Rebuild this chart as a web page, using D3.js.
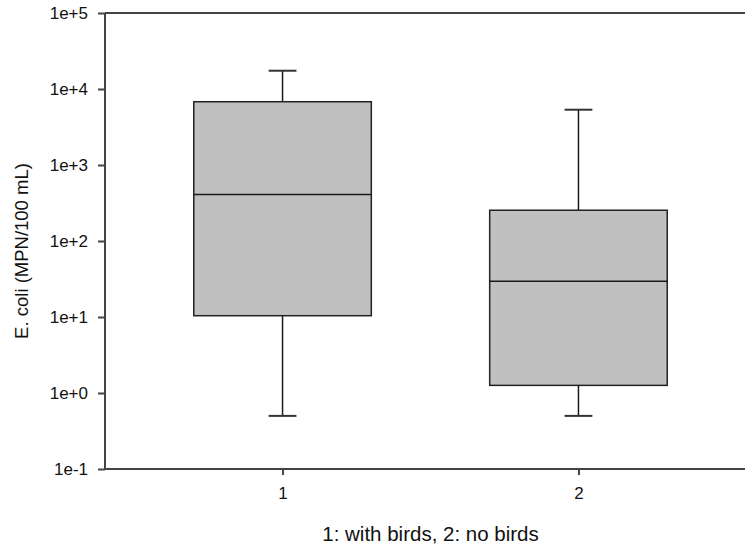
<!DOCTYPE html>
<html>
<head>
<meta charset="utf-8">
<script src="https://cdn.jsdelivr.net/npm/d3@7/dist/d3.min.js"></script>
<style>
  html, body { margin: 0; padding: 0; background: #fff; }
  svg { display: block; font-family: "Liberation Sans", Arial, sans-serif; }
</style>
</head>
<body>
<svg id="chart" width="745" height="548"></svg>
<script>
// Groups and five-number summaries (E. coli, MPN/100 mL)
const groups = [1, 2];
const whiskerLow = [0.5, 0.5];
const q1 = [10.4, 1.26];
const median = [410, 29.5];
const q3 = [6800, 254];
const whiskerHigh = [17400, 5340];
const yTicks = [1e-1, 1e0, 1e1, 1e2, 1e3, 1e4, 1e5];
const yTickLabels = ["1e-1", "1e+0", "1e+1", "1e+2", "1e+3", "1e+4", "1e+5"];

const svg = d3.select("#chart");
const margin = { left: 105, top: 13, right: 756, bottom: 469 };

const x = d3.scaleLinear().domain([0.4, 2.6]).range([margin.left, margin.right]);
const y = d3.scaleLog().domain([1e-1, 1e5]).range([margin.bottom, margin.top]);

const boxHalf = 0.3;   // box half-width in x units
const capHalf = 0.047; // whisker cap half-width

const data = groups.map((g, i) => ({
  g, lo: whiskerLow[i], q1: q1[i], med: median[i], q3: q3[i], hi: whiskerHigh[i]
}));

const axisColor = "#444";
const lineColor = "#1a1a1a";
const font = "Liberation Sans, Arial, sans-serif";

// Whiskers
const w = svg.append("g");
data.forEach(d => {
  w.append("line").attr("x1", x(d.g)).attr("x2", x(d.g))
    .attr("y1", y(d.hi)).attr("y2", y(d.q3))
    .attr("stroke", lineColor).attr("stroke-width", 1.5);
  w.append("line").attr("x1", x(d.g)).attr("x2", x(d.g))
    .attr("y1", y(d.q1)).attr("y2", y(d.lo))
    .attr("stroke", lineColor).attr("stroke-width", 1.5);
  [d.hi, d.lo].forEach(v => {
    w.append("line").attr("x1", x(d.g - capHalf)).attr("x2", x(d.g + capHalf))
      .attr("y1", y(v)).attr("y2", y(v))
      .attr("stroke", "#333").attr("stroke-width", 2);
  });
});

// Boxes
svg.append("g").selectAll("rect").data(data).join("rect")
  .attr("x", d => x(d.g - boxHalf))
  .attr("width", d => x(d.g + boxHalf) - x(d.g - boxHalf))
  .attr("y", d => y(d.q3))
  .attr("height", d => y(d.q1) - y(d.q3))
  .attr("fill", "#c0c0c0")
  .attr("stroke", "#222").attr("stroke-width", 1.5);

// Medians
svg.append("g").selectAll("line").data(data).join("line")
  .attr("x1", d => x(d.g - boxHalf)).attr("x2", d => x(d.g + boxHalf))
  .attr("y1", d => y(d.med)).attr("y2", d => y(d.med))
  .attr("stroke", lineColor).attr("stroke-width", 1.5);

// Y axis
const yAxis = d3.axisLeft(y).tickValues(yTicks)
  .tickFormat((d, i) => yTickLabels[i]).tickSize(7).tickPadding(10);
const yg = svg.append("g").attr("transform", `translate(${margin.left},0)`).call(yAxis);
yg.attr("font-size", 17).attr("font-family", font);
yg.select(".domain").attr("stroke", axisColor).attr("stroke-width", 2).attr("d", `M0,${margin.top}V${margin.bottom}`);
yg.selectAll(".tick line").attr("stroke", axisColor).attr("stroke-width", 2);
yg.selectAll(".tick text").attr("fill", "#111");

// X axis
const xAxis = d3.axisBottom(x).tickValues(groups).tickFormat(d3.format("d")).tickSize(6).tickPadding(12);
const xg = svg.append("g").attr("transform", `translate(0,${margin.bottom})`).call(xAxis);
xg.attr("font-size", 17).attr("font-family", font);
xg.select(".domain").attr("stroke", axisColor).attr("stroke-width", 2).attr("d", `M${margin.left},0H${margin.right}`);
xg.selectAll(".tick line").attr("stroke", axisColor).attr("stroke-width", 2);
xg.selectAll(".tick text").attr("fill", "#111");

// Top frame line
svg.append("line").attr("x1", margin.left).attr("x2", margin.right)
  .attr("y1", margin.top).attr("y2", margin.top)
  .attr("stroke", axisColor).attr("stroke-width", 2);

// Axis titles
svg.append("text")
  .attr("x", (margin.left + margin.right) / 2).attr("y", 541)
  .attr("text-anchor", "middle").attr("font-size", 20.5).attr("font-family", font).attr("fill", "#111")
  .text("1: with birds, 2: no birds");

svg.append("text")
  .attr("transform", `translate(28,251) rotate(-90)`)
  .attr("text-anchor", "middle").attr("font-size", 18.5).attr("font-family", font).attr("fill", "#111")
  .text("E. coli (MPN/100 mL)");
</script>
</body>
</html>
